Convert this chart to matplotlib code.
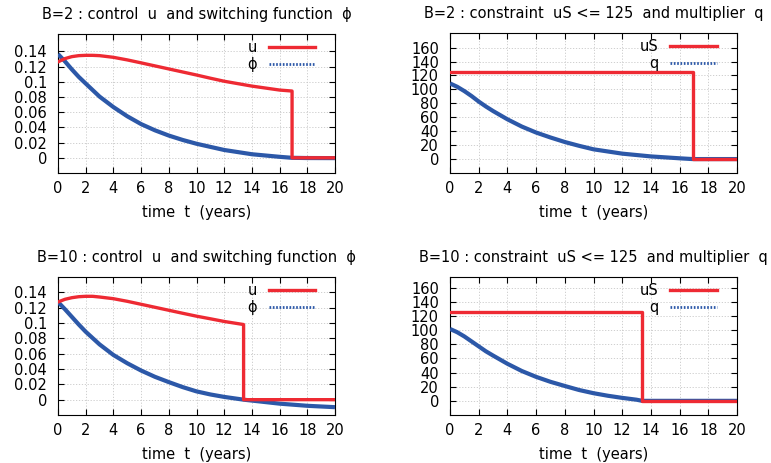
import matplotlib
matplotlib.use("Agg")
import matplotlib.pyplot as plt
from matplotlib.lines import Line2D

plt.rcParams['font.family'] = ['DejaVu Sans']
plt.rcParams['font.size'] = 10

# ---- data ----
# B=2 : control u and switching function phi
t_u2 = [0, 0.5, 1, 1.5, 2, 2.5, 3, 4, 5, 6, 7, 8, 9, 10, 11, 12, 14, 16, 16.9, 16.9, 20]
u2 = [0.1263, 0.1306, 0.1332, 0.1345, 0.1349, 0.1349, 0.1345, 0.1323, 0.1289, 0.125, 0.1210,
      0.1170, 0.1130, 0.1090, 0.1048, 0.1008, 0.0944, 0.0892, 0.0879, 0.0, 0.0]
t_phi2 = [0, 0.5, 1, 1.5, 2, 3, 4, 5, 6, 7, 8, 9, 10, 12, 14, 16, 16.9, 18, 20]
phi2 = [0.1366, 0.127, 0.1164, 0.1065, 0.0978, 0.0806, 0.0668, 0.0547, 0.0444, 0.0362, 0.0293,
        0.0235, 0.0185, 0.0103, 0.0047, 0.0013, 0.0, -0.0003, -0.0004]

# B=2 : constraint uS <= 125 and multiplier q
t_uS2 = [0, 16.9, 16.9, 20]
uS2 = [125, 125, 0, 0]
t_q2 = [0, 0.5, 1, 1.5, 2, 2.5, 3, 4, 5, 6, 7, 8, 9, 10, 12, 14, 16, 16.9, 20]
q2 = [108.6, 103.8, 97.6, 90.5, 82.6, 75.5, 69, 57.1, 46.7, 38.1, 31, 24.5, 19, 14, 7.8, 3.8, 1.1, 0.0, 0.0]

# B=10 : control u and switching function phi
t_u10 = [0, 0.5, 1, 1.5, 2, 2.5, 3, 4, 5, 6, 7, 8, 9, 10, 11, 12, 13.4, 13.4, 20]
u10 = [0.1274, 0.1309, 0.133, 0.1343, 0.1348, 0.1348, 0.1339, 0.1317, 0.1283, 0.1244, 0.1205,
       0.1166, 0.1127, 0.1089, 0.1055, 0.102, 0.098, 0.0, 0.0]
t_phi10 = [0, 0.5, 1, 1.5, 2, 3, 4, 5, 6, 7, 8, 9, 10, 11, 12, 13.4, 14, 16, 18, 20]
phi10 = [0.1274, 0.118, 0.108, 0.098, 0.0886, 0.0721, 0.0583, 0.0475, 0.038, 0.0298, 0.0229,
         0.0164, 0.0108, 0.0068, 0.0036, 0.0, -0.0012, -0.0052, -0.0080, -0.0098]

# B=10 : constraint uS <= 125 and multiplier q
t_uS10 = [0, 13.4, 13.4, 20]
uS10 = [125, 125, 0, 0]
t_q10 = [0, 0.5, 1, 1.5, 2, 2.5, 3, 4, 5, 6, 7, 8, 9, 10, 11, 12, 13, 13.4, 20]
q10 = [101.6, 97, 91, 84, 77, 70, 64, 52.4, 42.2, 33.9, 26.9, 21, 15.3, 10.8, 7.2, 4.2, 1.6, 0.0, 0.0]

xticks = list(range(0, 21, 2))
yticks_u = [0, 0.02, 0.04, 0.06, 0.08, 0.1, 0.12, 0.14]
ytick_u_labels = ['0', '0.02', '0.04', '0.06', '0.08', '0.1', '0.12', '0.14']
yticks_q = list(range(0, 161, 20))

titles = [
    "B=2 : control  u  and switching function  \u03d5",
    "B=2 : constraint  uS <= 125  and multiplier  q",
    "B=10 : control  u  and switching function  \u03d5",
    "B=10 : constraint  uS <= 125  and multiplier  q",
]

RED = '#ee2a33'
BLUE = '#2c58a8'
FS = 10.5

fig = plt.figure(figsize=(7.71, 4.63), dpi=100)
W, H = 771, 463

def make_ax(x0, x1, y0, y1):
    return fig.add_axes([x0 / W, 1 - y1 / H, (x1 - x0) / W, (y1 - y0) / H])

axes = [
    make_ax(58, 335, 34, 173),
    make_ax(450, 737, 33, 173),
    make_ax(58, 335, 277, 415),
    make_ax(450, 737, 277, 415),
]

datasets = [
    (t_u2, u2, t_phi2, phi2, 'u', '\u03d5', 'u'),
    (t_uS2, uS2, t_q2, q2, 'uS', 'q', 'q'),
    (t_u10, u10, t_phi10, phi10, 'u', '\u03d5', 'u'),
    (t_uS10, uS10, t_q10, q10, 'uS', 'q', 'q'),
]
ylims = [(-0.02, 0.163), (-20, 181), (-0.02, 0.16), (-20, 175)]

for ax, (tr, yr, tb, yb, lr, lb, kind), title, yl in zip(axes, datasets, titles, ylims):
    ax.plot(tb, yb, color=BLUE, lw=3.0, zorder=3, solid_capstyle='butt')
    ax.plot(tr, yr, color=RED, lw=2.4, zorder=4)
    ax.set_xlim(0, 20)
    ax.set_ylim(*yl)
    ax.set_xticks(xticks)
    if kind == 'u':
        ax.set_yticks(yticks_u)
        ax.set_yticklabels(ytick_u_labels)
    else:
        ax.set_yticks(yticks_q)
    ax.grid(True, color='#c8c8c8', ls=(0, (1.5, 2)), lw=0.6)
    ax.set_axisbelow(True)
    ax.tick_params(direction='in', top=True, right=True, length=4, labelsize=FS, pad=6)
    ax.tick_params(axis='y', pad=8)
    for s in ax.spines.values():
        s.set_linewidth(0.8)
    ax.set_title(title, fontsize=FS, pad=11)
    ax.set_xlabel("time  t  (years)", fontsize=FS, labelpad=6)
    handles = [Line2D([], [], color=RED, lw=2.4),
               Line2D([], [], color=BLUE, lw=2.0, ls=(0, (0.6, 0.6)))]
    ax.legend(handles, [lr, lb], loc='upper right', frameon=False, markerfirst=False,
              handlelength=3.2, fontsize=FS, borderaxespad=0.0, labelspacing=0.15,
              bbox_to_anchor=(0.95, 1.0), handletextpad=0.8)

fig.savefig("out.png", dpi=100)
